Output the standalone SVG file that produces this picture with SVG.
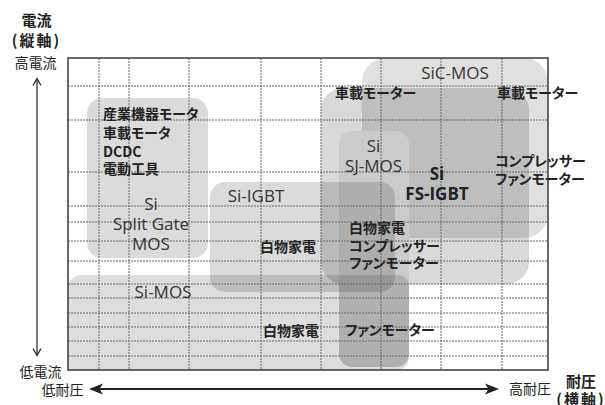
<svg xmlns="http://www.w3.org/2000/svg" width="605" height="405" viewBox="0 0 605 405">
<style>
.jp{font-family:"Noto Sans CJK JP","Noto Sans",sans-serif;fill:#222;font-feature-settings:"palt"}
.jb{font-family:"Noto Sans CJK JP","Noto Sans",sans-serif;font-weight:bold;fill:#222;font-size:14px;font-feature-settings:"palt"}
.en{font-family:"Open Sans","Noto Sans",sans-serif;fill:#333;font-size:17px;text-anchor:middle}
.eb{font-family:"Open Sans","Noto Sans",sans-serif;font-weight:bold;fill:#222;font-size:17px;text-anchor:middle}
.grid line{stroke:#666;stroke-width:1;stroke-dasharray:2 1}
</style>
<rect width="605" height="405" fill="#fff"/>
<g id="boxes">
  <g id="sic-mos-box"><rect x="362" y="58" width="186" height="180" rx="24" fill="#000" fill-opacity="0.12"/></g>
  <g id="fs-igbt-box"><rect x="321" y="88" width="208" height="196" rx="22" fill="#000" fill-opacity="0.15"/></g>
  <g id="sj-mos-box"><rect x="339" y="131" width="70" height="236" rx="13" fill="#cbcbcb"/></g>
  <g id="split-gate-box"><rect x="87" y="98" width="121" height="160" rx="15" fill="#000" fill-opacity="0.14"/></g>
  <g id="si-igbt-box"><rect x="210" y="182" width="185" height="110" rx="15" fill="#000" fill-opacity="0.14"/></g>
  <g id="si-mos-box"><path d="M83 275 H396 Q409 275 409 288 V356 Q409 370 396 370 H68 V290 Q68 275 83 275 Z" fill="#000" fill-opacity="0.13"/></g>
</g>
<g class="grid" id="grid">
  <line x1="99" y1="58" x2="99" y2="370"/>
  <line x1="129" y1="58" x2="129" y2="370"/>
  <line x1="189" y1="58" x2="189" y2="370"/>
  <line x1="261" y1="58" x2="261" y2="370"/>
  <line x1="321" y1="58" x2="321" y2="370"/>
  <line x1="381" y1="58" x2="381" y2="370"/>
  <line x1="441" y1="58" x2="441" y2="370"/>
  <line x1="502" y1="58" x2="502" y2="370"/>
  <line x1="68" y1="86" x2="548" y2="86"/>
  <line x1="68" y1="120" x2="548" y2="120"/>
  <line x1="68" y1="172" x2="548" y2="172"/>
  <line x1="68" y1="206" x2="548" y2="206"/>
  <line x1="68" y1="222" x2="548" y2="222"/>
  <line x1="68" y1="241" x2="548" y2="241"/>
  <line x1="68" y1="261" x2="548" y2="261"/>
  <line x1="68" y1="284" x2="548" y2="284"/>
  <line x1="68" y1="298" x2="548" y2="298"/>
  <line x1="68" y1="313" x2="548" y2="313"/>
  <line x1="68" y1="327" x2="548" y2="327"/>
  <line x1="68" y1="341" x2="548" y2="341"/>
  <line x1="68" y1="356" x2="548" y2="356"/>
</g>
<rect id="frame" x="68" y="58" width="480" height="312" fill="none" stroke="#444" stroke-width="1.6"/>
<g id="axes">
  <line x1="37" y1="79" x2="37" y2="355" stroke="#222" stroke-width="1.2"/>
  <path d="M33 85.5 L37 78.5 L41 85.5" fill="none" stroke="#222" stroke-width="1.2"/>
  <path d="M33 348.5 L37 355.5 L41 348.5" fill="none" stroke="#222" stroke-width="1.2"/>
  <line x1="96" y1="389" x2="492" y2="389" stroke="#222" stroke-width="2"/>
  <path d="M89 389 L103 383.5 L99.5 389 L103 394.5 Z" fill="#222"/>
  <path d="M499 389 L485 383.5 L488.5 389 L485 394.5 Z" fill="#222"/>
</g>
<g id="axis-labels">
  <text class="jp" x="36.5" y="26" font-size="15" font-weight="bold" text-anchor="middle">電流</text>
  <text class="jp" x="36.5" y="46" font-size="15" font-weight="bold" text-anchor="middle" letter-spacing="2">(縦軸)</text>
  <text class="jp" x="35.5" y="68" font-size="14" text-anchor="middle">高電流</text>
  <text class="jp" x="40.5" y="377" font-size="14" text-anchor="middle">低電流</text>
  <text class="jp" x="62.5" y="395" font-size="14" text-anchor="middle">低耐圧</text>
  <text class="jp" x="530" y="394" font-size="14" text-anchor="middle">高耐圧</text>
  <text class="jp" x="581" y="387" font-size="15" font-weight="bold" text-anchor="middle">耐圧</text>
  <text class="jp" x="581" y="405" font-size="15" font-weight="bold" text-anchor="middle" letter-spacing="2">(横軸)</text>
</g>
<g id="sic-mos-label">
  <text class="en" x="455" y="79">SiC-MOS</text>
  <text class="jb" x="497" y="98">車載モーター</text>
</g>
<g id="fs-igbt-label">
  <text class="jb" x="335" y="98">車載モーター</text>
  <text class="eb" x="437" y="180">Si</text>
  <text class="eb" x="437" y="200">FS-IGBT</text>
  <text class="jb" x="495" y="166">コンプレッサー</text>
  <text class="jb" x="495" y="184">ファンモーター</text>
  <text class="jb" x="349" y="233">白物家電</text>
  <text class="jb" x="349" y="251">コンプレッサー</text>
  <text class="jb" x="349" y="268">ファンモーター</text>
</g>
<g id="sj-mos-label">
  <text class="en" x="373.5" y="152">Si</text>
  <text class="en" x="373.5" y="172">SJ-MOS</text>
  <text class="jb" x="345" y="335">ファンモーター</text>
</g>
<g id="split-gate-label">
  <text class="jb" x="103" y="119">産業機器モータ</text>
  <text class="jb" x="103" y="138">車載モータ</text>
  <text class="jb" x="103" y="157">DCDC</text>
  <text class="jb" x="103" y="174">電動工具</text>
  <text class="en" x="151" y="210">Si</text>
  <text class="en" x="151" y="230">Split Gate</text>
  <text class="en" x="151" y="250">MOS</text>
</g>
<g id="si-igbt-label">
  <text class="en" x="256" y="202">Si-IGBT</text>
  <text class="jb" x="260" y="252">白物家電</text>
</g>
<g id="si-mos-label">
  <text class="en" x="163" y="298">Si-MOS</text>
  <text class="jb" x="263" y="336">白物家電</text>
</g>
</svg>
